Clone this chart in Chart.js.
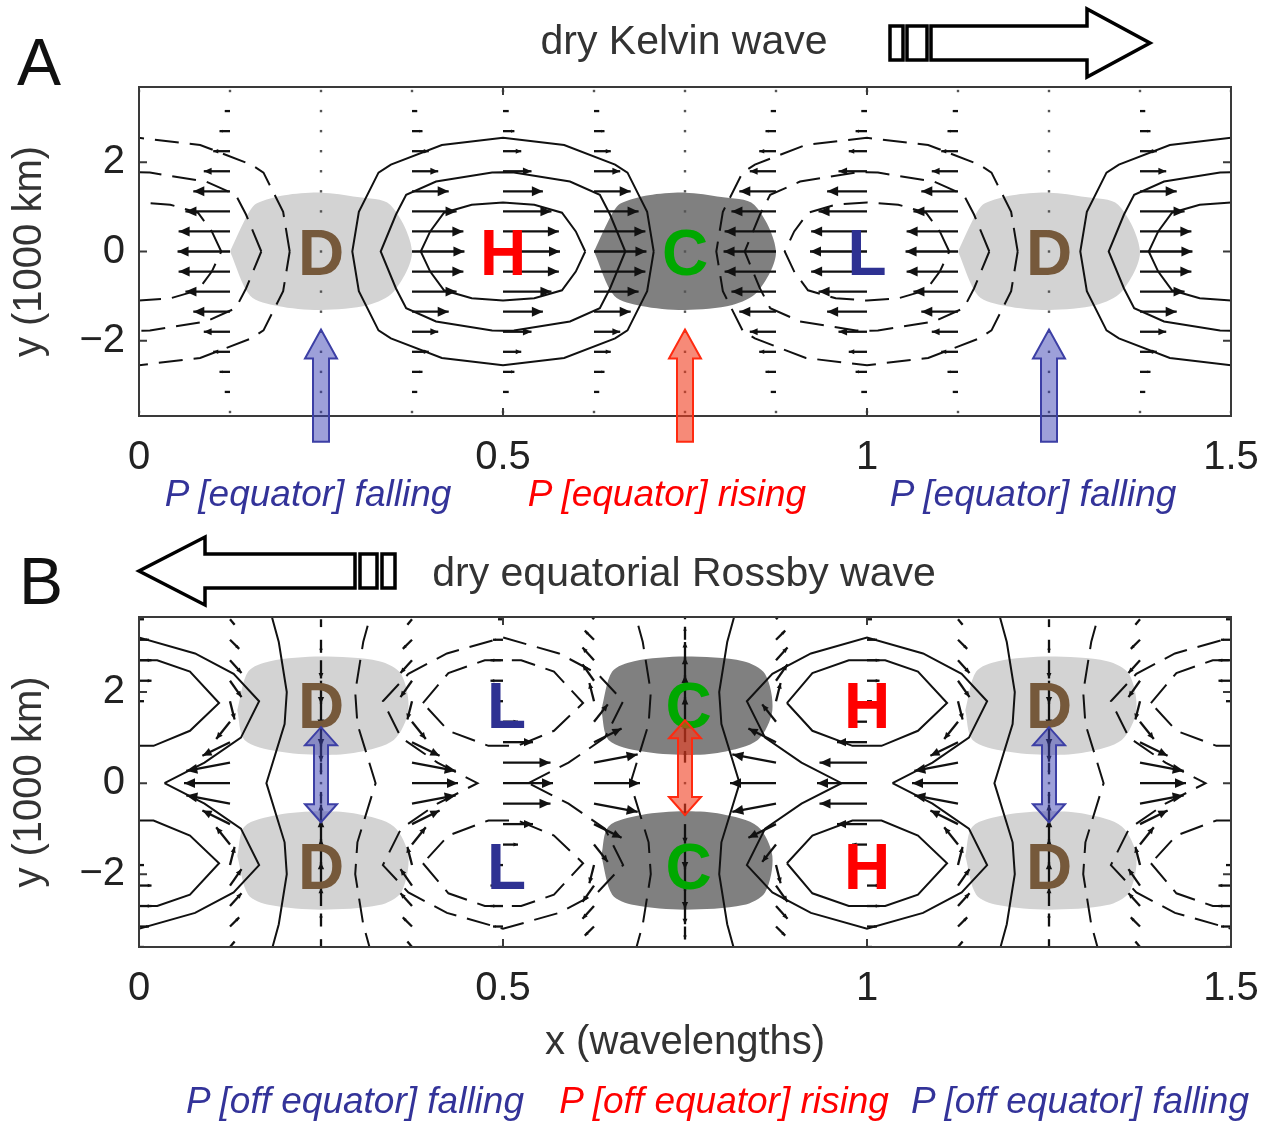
<!DOCTYPE html>
<html>
<head>
<meta charset="utf-8">
<script src="https://cdn.jsdelivr.net/npm/chart.js@4.4.1/dist/chart.umd.min.js"></script>
<style>
  html, body { margin: 0; padding: 0; background: #fff; }
  #fig { position: relative; width: 1262px; height: 1121px; font-family: "Liberation Sans", Arial, sans-serif; }
  canvas { position: absolute; left: 0; }
  .lbl { position: absolute; transform: translate(-50%, -50%); white-space: nowrap; line-height: 1; }
  .cap { font-size: 41px; color: #333; }
  .note { font-size: 37px; font-style: italic; }
  .fall { color: #333399; }
  .rise { color: #ff0000; }
  .panel { font-size: 66px; color: #111; }
  svg { position: absolute; left: 0; top: 0; }
</style>
</head>
<body>
<div id="fig">
  <canvas id="chartA" width="1262" height="520" style="top:0"></canvas>
  <canvas id="chartB" width="1262" height="601" style="top:520px"></canvas>

  <svg width="1262" height="1121">
    <g fill="#fff" stroke="#000" stroke-width="3.5">
      <rect x="890" y="26" width="13" height="34"/>
      <rect x="907" y="26" width="20" height="34"/>
      <polygon points="931,26 1087,26 1087,9 1150,43 1087,77 1087,60 931,60"/>
      <polygon points="355,554 205,554 205,537 139,571 205,605 205,588 355,588"/>
      <rect x="360" y="554" width="17" height="34"/>
      <rect x="382" y="554" width="13" height="34"/>
    </g>
  </svg>

  <div class="lbl panel" style="left:39px;top:62px">A</div>
  <div class="lbl panel" style="left:41px;top:581px">B</div>
  <div class="lbl cap" style="left:684px;top:40px">dry Kelvin wave</div>
  <div class="lbl cap" style="left:684px;top:572px">dry equatorial Rossby wave</div>

  <div class="lbl note fall" style="left:308px;top:493px">P [equator] falling</div>
  <div class="lbl note rise" style="left:667px;top:493px">P [equator] rising</div>
  <div class="lbl note fall" style="left:1033px;top:493px">P [equator] falling</div>
  <div class="lbl note fall" style="left:355px;top:1100px">P [off equator] falling</div>
  <div class="lbl note rise" style="left:724px;top:1100px">P [off equator] rising</div>
  <div class="lbl note fall" style="left:1080px;top:1100px">P [off equator] falling</div>
</div>

<script>
// axis ticks
const xTicks = [0, 0.5, 1, 1.5];
const yTicks = [-2, 0, 2];

// wind-vector grid (x in wavelengths, y in 1000 km; rows mirrored below the equator)
const gridCols = [0, 0.125, 0.25, 0.375, 0.5, 0.625, 0.75, 0.875, 1, 1.125, 1.25, 1.375, 1.5];
const gridRows = [0, 0.45, 0.9, 1.35, 1.8, 2.25, 2.7, 3.15, 3.6];

// --- panel A: Kelvin wave ---
const kelvinUCol = [-1, -0.92, 0, 0.92, 1, 0.92, 0, -0.92, -1, -0.92, 0, 0.92, 1];
const kelvinURow = [1, 0.98, 0.85, 0.7, 0.5, 0.32, 0.2, 0.1, 0.03];
const kelvinHighs = [0.5, 1.5];
const kelvinLows = [0, 1];
// contour half-profiles [dx from centre, y], equator to top
const kelvinInner = [[0.113, 0], [0.1, 0.45], [0.081, 0.87], [0.043, 1.05], [0, 1.1]];
const kelvinMiddle = [[0.168, 0], [0.147, 0.83], [0.133, 1.27], [0.092, 1.57], [0.015, 1.77], [0, 1.78]];
const kelvinOuter = [[0.207, 0], [0.198, 0.89], [0.171, 1.77], [0.154, 1.95], [0.084, 2.39], [0, 2.55]];
const kelvinDiv = [0.25, 1.25];
const kelvinConv = [0.75];
const kelvinBlob = [[-0.125, 0], [-0.1, 0.85], [-0.088, 1.08], [-0.05, 1.26], [0, 1.32], [0.05, 1.22],
  [0.095, 1.05], [0.125, 0], [0.1, -0.9], [0.065, -1.2], [0, -1.31], [-0.06, -1.22], [-0.097, -1.0], [-0.125, 0]];
const kelvinLetters = [['D', 0.25, 0], ['H', 0.5, 0], ['C', 0.75, 0], ['L', 1, 0], ['D', 1.25, 0]];
const kelvinMarks = [[0.25, -4.27, -1.75, 'fall'], [0.75, -4.27, -1.75, 'rise'], [1.25, -4.27, -1.75, 'fall']];

// --- panel B: equatorial Rossby wave ---
const rossbyUCol = [1, 0.92, 0, -0.92, -1, -0.92, 0, 0.92, 1, 0.92, 0, -0.92, -1];
const rossbyURow = [-1, -0.95, -0.6, -0.3, 0.1, 0.25, 0.25, 0.2, 0.1];
const rossbyVCol = [0, 0.7, 1, 0.7, 0, -0.7, -1, -0.7, 0, 0.7, 1, 0.7, 0];
const rossbyVRow = [0, -0.45, -0.75, -0.95, -1, -0.9, -0.7, -0.5, -0.3];
const rossbyHighs = [0, 1];
const rossbyLows = [0.5, 1.5];
const rossbyLens = [[-0.11, 1.76], [-0.075, 2.42], [-0.025, 2.7], [0.025, 2.7], [0.07, 2.45], [0.11, 1.76],
  [0.07, 1.15], [0.02, 0.82], [-0.02, 0.82], [-0.075, 1.15], [-0.11, 1.76]];
const rossbyEight = [[0.035, 0], [0.09, 0.45], [0.14, 1.0], [0.165, 1.8], [0.13, 2.4], [0.077, 2.85], [0, 3.2]];
const rossbyOpen = [[0.175, 0], [0.2, 1.3], [0.203, 2.0], [0.192, 3.1], [0.18, 3.8]];
const rossbyDiv = [0.25, 1.25];
const rossbyConv = [0.75];
const rossbyBlob = [[-0.115, 1.6], [-0.1, 2.45], [-0.07, 2.68], [0, 2.78], [0.08, 2.68], [0.11, 2.4], [0.12, 1.6],
  [0.1, 0.95], [0.05, 0.68], [0, 0.62], [-0.06, 0.7], [-0.105, 0.95], [-0.115, 1.6]];
const rossbyLetters = [['D', 0.25, 1.72], ['L', 0.505, 1.72], ['C', 0.755, 1.72], ['H', 1, 1.72], ['D', 1.25, 1.72],
  ['D', 0.25, -1.83], ['L', 0.505, -1.83], ['C', 0.755, -1.83], ['H', 1, -1.83], ['D', 1.25, -1.83]];
const rossbyMarks = [[0.25, -0.86, 1.23, 'fall'], [0.75, -0.7, 1.38, 'rise'], [1.25, -0.86, 1.23, 'fall']];

const FONT = '"Liberation Sans", Arial, sans-serif';
const letterColors = { D: '#76593b', H: '#ff0000', C: '#00a800', L: '#2e3192' };
const markColors = {
  fall: ['rgba(60,65,180,0.5)', '#3c3fa5'],
  rise: ['rgba(240,60,30,0.6)', '#ff2a10']
};

// closed loop from a quarter profile, mirrored in x and y
function mirrorLoop(c, q) {
  const up = q.map(([dx, y]) => ({ x: c + dx, y }));
  const upL = q.slice().reverse().map(([dx, y]) => ({ x: c - dx, y }));
  const loL = q.map(([dx, y]) => ({ x: c - dx, y: -y }));
  const loR = q.slice().reverse().map(([dx, y]) => ({ x: c + dx, y: -y }));
  return up.concat(upL, loL, loR);
}

function shifted(c, pts, sy) {
  return pts.map(([dx, y]) => ({ x: c + dx, y: sy * y }));
}

function openLine(c, side, q) {
  const lower = q.slice().reverse().map(([dx, y]) => ({ x: c + side * dx, y: -y }));
  const upper = q.map(([dx, y]) => ({ x: c + side * dx, y }));
  return lower.concat(upper);
}

function drawVec(ctx, x0, y0, dx, dy) {
  const len = Math.hypot(dx, dy);
  if (len < 2.5) {
    ctx.fillStyle = '#555';
    ctx.fillRect(x0 - 1.2, y0 - 1.2, 2.4, 2.4);
    return;
  }
  const x1 = x0 + dx, y1 = y0 + dy;
  ctx.strokeStyle = '#111';
  ctx.fillStyle = '#111';
  ctx.lineWidth = 2.3;
  ctx.beginPath();
  ctx.moveTo(x0, y0);
  ctx.lineTo(x1, y1);
  ctx.stroke();
  const h = Math.min(11, 0.3 * len), w = h * 0.45;
  const ux = dx / len, uy = dy / len;
  ctx.beginPath();
  ctx.moveTo(x1, y1);
  ctx.lineTo(x1 - ux * h - uy * w, y1 - uy * h + ux * w);
  ctx.lineTo(x1 - ux * h + uy * w, y1 - uy * h - ux * w);
  ctx.closePath();
  ctx.fill();
}

function markerPath(ctx, x, yA, yB, single) {
  // yA bottom pixel, yB top pixel
  const sw = single ? 8 : 7, hw = 16, hh = single ? 29 : 18;
  ctx.beginPath();
  if (single) {
    ctx.moveTo(x - sw, yA);
    ctx.lineTo(x - sw, yB + hh);
    ctx.lineTo(x - hw, yB + hh);
    ctx.lineTo(x, yB);
    ctx.lineTo(x + hw, yB + hh);
    ctx.lineTo(x + sw, yB + hh);
    ctx.lineTo(x + sw, yA);
  } else {
    ctx.moveTo(x, yA);
    ctx.lineTo(x - hw, yA - hh);
    ctx.lineTo(x - sw, yA - hh);
    ctx.lineTo(x - sw, yB + hh);
    ctx.lineTo(x - hw, yB + hh);
    ctx.lineTo(x, yB);
    ctx.lineTo(x + hw, yB + hh);
    ctx.lineTo(x + sw, yB + hh);
    ctx.lineTo(x + sw, yA - hh);
    ctx.lineTo(x + hw, yA - hh);
  }
  ctx.closePath();
}

function overlay(p) {
  return {
    id: 'overlay',
    afterDatasetsDraw(chart) {
      const { ctx, chartArea: a, scales: { x, y } } = chart;
      ctx.save();
      ctx.beginPath();
      ctx.rect(a.left, a.top, a.width, a.height);
      ctx.clip();
      gridCols.forEach((cx, i) => {
        gridRows.forEach((ry, j) => {
          [1, -1].forEach(sg => {
            if (j === 0 && sg < 0) return;
            const u = p.uCol[i] * p.uRow[j] * p.uScale;
            const v = p.vCol ? p.vCol[i] * p.vRow[j] * sg * p.vScale : 0;
            drawVec(ctx, x.getPixelForValue(cx), y.getPixelForValue(sg * ry), u, -v);
          });
        });
      });
      ctx.restore();
    },
    afterDraw(chart) {
      const { ctx, chartArea: a, scales: { x, y } } = chart;
      ctx.save();
      // frame + inward ticks
      ctx.strokeStyle = '#3a3a3a';
      ctx.lineWidth = 2;
      ctx.strokeRect(a.left, a.top, a.width, a.height);
      ctx.beginPath();
      xTicks.forEach(v => {
        const px = x.getPixelForValue(v);
        ctx.moveTo(px, a.bottom); ctx.lineTo(px, a.bottom - 8);
        ctx.moveTo(px, a.top); ctx.lineTo(px, a.top + 8);
      });
      yTicks.forEach(v => {
        const py = y.getPixelForValue(v);
        ctx.moveTo(a.left, py); ctx.lineTo(a.left + 8, py);
        ctx.moveTo(a.right, py); ctx.lineTo(a.right - 8, py);
      });
      ctx.stroke();
      // region letters
      ctx.font = 'bold 64px ' + FONT;
      ctx.textAlign = 'center';
      ctx.textBaseline = 'alphabetic';
      p.letters.forEach(([t, lx, ly]) => {
        ctx.fillStyle = letterColors[t];
        ctx.fillText(t, x.getPixelForValue(lx), y.getPixelForValue(ly) + 23);
      });
      // pressure tendency arrows
      p.marks.forEach(([mx, y0, y1, kind]) => {
        markerPath(ctx, x.getPixelForValue(mx), y.getPixelForValue(y0), y.getPixelForValue(y1), p.single);
        ctx.fillStyle = markColors[kind][0];
        ctx.fill();
        ctx.strokeStyle = markColors[kind][1];
        ctx.lineWidth = 2;
        ctx.stroke();
      });
      ctx.restore();
    }
  };
}

function panelChart(id, p) {
  const datasets = [];
  p.blobs.forEach(b => datasets.push({
    data: b.pts, showLine: true, fill: 'shape', backgroundColor: b.color,
    borderWidth: 0, pointRadius: 0, tension: 0.3, order: 3
  }));
  p.contours.forEach(c => datasets.push({
    data: c.pts, showLine: true, fill: false, borderColor: '#111', borderWidth: 2,
    borderDash: c.dashed ? [24, 11] : [], pointRadius: 0, tension: 0, order: 2
  }));

  return new Chart(document.getElementById(id), {
    type: 'scatter',
    data: { datasets },
    options: {
      responsive: false,
      animation: false,
      events: [],
      layout: { padding: { top: p.padTop, right: 31, bottom: p.padBottom, left: 0 } },
      plugins: { legend: { display: false }, tooltip: { enabled: false } },
      scales: {
        x: {
          type: 'linear', min: 0, max: 1.5,
          afterBuildTicks: s => { s.ticks = xTicks.map(v => ({ value: v })); },
          afterFit: s => { s.height = p.xHeight; s.paddingLeft = 0; s.paddingRight = 0; },
          grid: { display: false, drawTicks: false },
          border: { display: false },
          ticks: { font: { size: 40, family: FONT }, color: '#222', padding: 18, callback: v => String(v) },
          title: p.xTitle
            ? { display: true, text: p.xTitle, font: { size: 40, family: FONT }, color: '#333', padding: { top: 0, bottom: 0 } }
            : { display: false }
        },
        y: {
          type: 'linear', min: p.yMin, max: p.yMax,
          afterBuildTicks: s => { s.ticks = yTicks.map(v => ({ value: v })); },
          afterFit: s => { s.width = 139; s.paddingTop = 0; s.paddingBottom = 0; },
          grid: { display: false, drawTicks: false },
          border: { display: false },
          ticks: {
            font: { size: 40, family: FONT }, color: '#222', padding: 14,
            callback: v => (v < 0 ? '\u2212' + (-v) : String(v))
          },
          title: { display: true, text: 'y (1000 km)', font: { size: 40, family: FONT }, color: '#333', padding: { top: 6, bottom: 0 } }
        }
      }
    },
    plugins: [overlay(p)]
  });
}

const LIGHT = '#d3d3d3', DARK = '#808080';

// panel A
const contoursA = [];
kelvinHighs.forEach(c => [kelvinInner, kelvinMiddle, kelvinOuter].forEach(q => contoursA.push({ pts: mirrorLoop(c, q), dashed: false })));
kelvinLows.forEach(c => [kelvinInner, kelvinMiddle, kelvinOuter].forEach(q => contoursA.push({ pts: mirrorLoop(c, q), dashed: true })));
const blobsA = kelvinDiv.map(c => ({ pts: shifted(c, kelvinBlob, 1), color: LIGHT }))
  .concat(kelvinConv.map(c => ({ pts: shifted(c, kelvinBlob, 1), color: DARK })));

panelChart('chartA', {
  padTop: 87, padBottom: 34, xHeight: 70, yMin: -3.69, yMax: 3.69, xTitle: null,
  blobs: blobsA, contours: contoursA,
  uCol: kelvinUCol, uRow: kelvinURow, uScale: 57,
  letters: kelvinLetters, marks: kelvinMarks, single: true
});

// panel B
const contoursB = [];
function rossbyContours(c, dashed) {
  contoursB.push({ pts: shifted(c, rossbyLens, 1), dashed });
  contoursB.push({ pts: shifted(c, rossbyLens, -1), dashed });
  contoursB.push({ pts: mirrorLoop(c, rossbyEight), dashed });
  contoursB.push({ pts: openLine(c, 1, rossbyOpen), dashed });
  contoursB.push({ pts: openLine(c, -1, rossbyOpen), dashed });
}
rossbyHighs.forEach(c => rossbyContours(c, false));
rossbyLows.forEach(c => rossbyContours(c, true));
const blobsB = [];
rossbyDiv.forEach(c => [1, -1].forEach(s => blobsB.push({ pts: shifted(c, rossbyBlob, s), color: LIGHT })));
rossbyConv.forEach(c => [1, -1].forEach(s => blobsB.push({ pts: shifted(c, rossbyBlob, s), color: DARK })));

panelChart('chartB', {
  padTop: 97, padBottom: 54, xHeight: 120, yMin: -3.6, yMax: 3.65, xTitle: 'x (wavelengths)',
  blobs: blobsB, contours: contoursB,
  uCol: rossbyUCol, uRow: rossbyURow, uScale: 50,
  vCol: rossbyVCol, vRow: rossbyVRow, vScale: 26,
  letters: rossbyLetters, marks: rossbyMarks, single: false
});
</script>
</body>
</html>
